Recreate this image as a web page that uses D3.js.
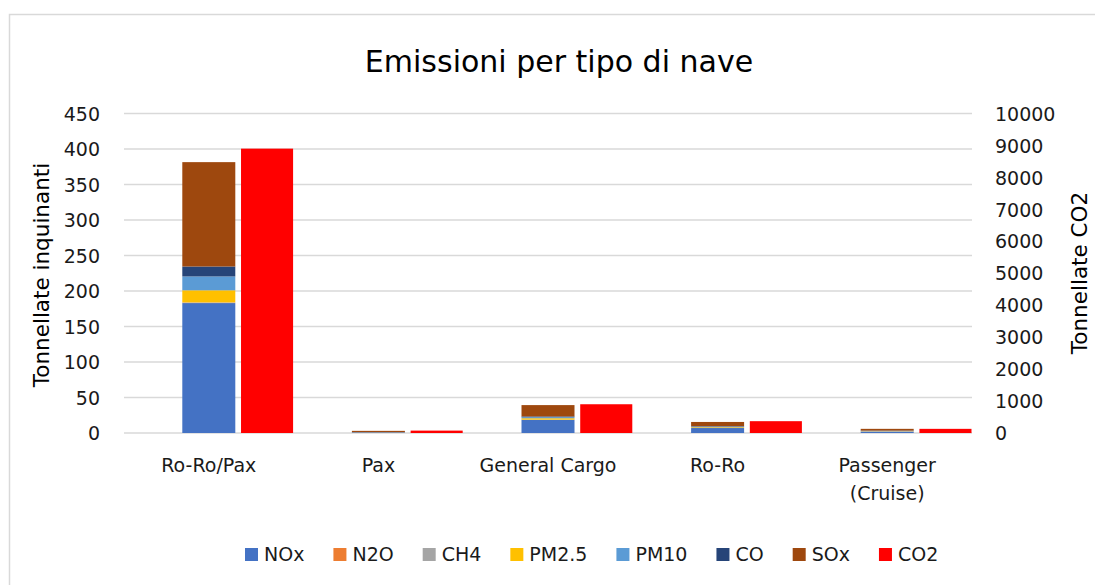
<!DOCTYPE html>
<html>
<head>
<meta charset="utf-8">
<script src="https://cdn.jsdelivr.net/npm/d3@7/dist/d3.min.js"></script>
<style>
  html, body { margin: 0; padding: 0; background: #fff; }
  svg { display: block; font-family: "DejaVu Sans", sans-serif; }
</style>
</head>
<body>
<svg id="chart" width="1095" height="585"></svg>
<script>
// ---- Data ----
const categories = ["Ro-Ro/Pax", "Pax", "General Cargo", "Ro-Ro", "Passenger (Cruise)"];
const NOx   = [183, 0.8, 18.5, 7, 2];
const N2O   = [0.5, 0.02, 0.1, 0.05, 0.05];
const CH4   = [0.5, 0.1, 0.2, 0.1, 0.4];
const PM25  = [17, 0.1, 2, 1, 0.3];
const PM10  = [19.5, 0.1, 1.5, 0.8, 0.3];
const CO    = [14, 0.1, 1, 0.6, 0.3];
const SOx   = [147, 1.8, 16, 6, 2.5];
const CO2   = [8900, 75, 900, 370, 130];
const leftTicks = [0, 50, 100, 150, 200, 250, 300, 350, 400, 450];
const rightTicks = [0, 1000, 2000, 3000, 4000, 5000, 6000, 7000, 8000, 9000, 10000];

const stackSeries = [
  { name: "NOx", values: NOx, color: "#4472c4" },
  { name: "N2O", values: N2O, color: "#ed7d31" },
  { name: "CH4", values: CH4, color: "#a5a5a5" },
  { name: "PM2.5", values: PM25, color: "#ffc000" },
  { name: "PM10", values: PM10, color: "#5b9bd5" },
  { name: "CO", values: CO, color: "#264478" },
  { name: "SOx", values: SOx, color: "#9e480e" }
];
const co2Series = { name: "CO2", values: CO2, color: "#ff0000" };

// ---- Layout ----
const svg = d3.select("#chart");
const plot = { left: 124, right: 972, top: 113.5, bottom: 433 };
const textColor = "#1a1a1a";

svg.append("rect").attr("x", 9.5).attr("y", 14.5).attr("width", 1095).attr("height", 580)
  .attr("fill", "#fff").attr("stroke", "#d9d9d9").attr("stroke-width", 1.5);

const x = d3.scaleBand().domain(categories).range([plot.left, plot.right]).padding(0);
const yL = d3.scaleLinear().domain([0, 450]).range([plot.bottom, plot.top]);
const yR = d3.scaleLinear().domain([0, 10000]).range([plot.bottom, plot.top]);

// gridlines
svg.append("g").selectAll("line").data(leftTicks).join("line")
  .attr("x1", plot.left).attr("x2", plot.right)
  .attr("y1", d => yL(d)).attr("y2", d => yL(d))
  .attr("stroke", "#d9d9d9").attr("stroke-width", 1.5);

// axes (labels only)
const axL = svg.append("g").attr("transform", `translate(${plot.left - 10},0)`)
  .call(d3.axisLeft(yL).tickValues(leftTicks).tickSize(0).tickPadding(14).tickFormat(d3.format("d")));
const axR = svg.append("g").attr("transform", `translate(${plot.right + 10},0)`)
  .call(d3.axisRight(yR).tickValues(rightTicks).tickSize(0).tickPadding(13).tickFormat(d3.format("d")));
[axL, axR].forEach(a => {
  a.select(".domain").remove();
  a.selectAll("text").attr("font-family", "DejaVu Sans, sans-serif").attr("font-size", 19).attr("fill", textColor);
});
axL.selectAll("text").attr("dy", "0.35em");
axR.selectAll("text").attr("dy", "0.35em");

// stacked bars
const bw = x.bandwidth();
const stackW = bw * 0.3125;
const co2Off = bw * 0.19;
const co2W = bw * 0.307;

const stackData = categories.map((c, i) => {
  const o = { cat: c };
  stackSeries.forEach(s => o[s.name] = s.values[i]);
  return o;
});
const stacked = d3.stack().keys(stackSeries.map(s => s.name))(stackData);
const gStack = svg.append("g");
stacked.forEach((layer, li) => {
  gStack.append("g").attr("fill", stackSeries[li].color)
    .selectAll("rect").data(layer).join("rect")
    .attr("x", d => x(d.data.cat) + bw / 2 - stackW / 2)
    .attr("width", stackW)
    .attr("y", d => yL(d[1]))
    .attr("height", d => Math.max(0, yL(d[0]) - yL(d[1])));
});

// CO2 bars (secondary axis)
svg.append("g").attr("fill", co2Series.color)
  .selectAll("rect").data(categories).join("rect")
  .attr("x", (c) => x(c) + bw / 2 + co2Off)
  .attr("width", co2W)
  .attr("y", (c, i) => yR(co2Series.values[i]))
  .attr("height", (c, i) => yR(0) - yR(co2Series.values[i]));

// category labels
const catG = svg.append("g");
categories.forEach(c => {
  const parts = c === "Passenger (Cruise)" ? ["Passenger", "(Cruise)"] : [c];
  const t = catG.append("text").attr("text-anchor", "middle")
    .attr("font-size", 19).attr("fill", textColor);
  parts.forEach((p, k) => {
    t.append("tspan").attr("x", x(c) + bw / 2).attr("y", 472 + k * 28).text(p);
  });
});

// title
svg.append("text").attr("x", 559).attr("y", 72).attr("text-anchor", "middle")
  .attr("font-size", 30).attr("fill", "#000").text("Emissioni per tipo di nave");

// axis titles
svg.append("text").attr("transform", "translate(49,275) rotate(-90)")
  .attr("text-anchor", "middle").attr("font-size", 21.5).attr("fill", "#000")
  .text("Tonnellate inquinanti");
svg.append("text").attr("transform", "translate(1087,273) rotate(-90)")
  .attr("text-anchor", "middle").attr("font-size", 21.5).attr("fill", "#000")
  .text("Tonnellate CO2");

// legend
const legendItems = stackSeries.concat([co2Series]);
const lg = svg.append("g");
let lx = 245;
legendItems.forEach(s => {
  lg.append("rect").attr("x", lx).attr("y", 548).attr("width", 13).attr("height", 13).attr("fill", s.color);
  const t = lg.append("text").attr("x", lx + 19).attr("y", 561).attr("font-size", 19).attr("fill", textColor).text(s.name);
  const w = t.node().getComputedTextLength();
  lx = lx + 19 + w + 29;
});
</script>
</body>
</html>
